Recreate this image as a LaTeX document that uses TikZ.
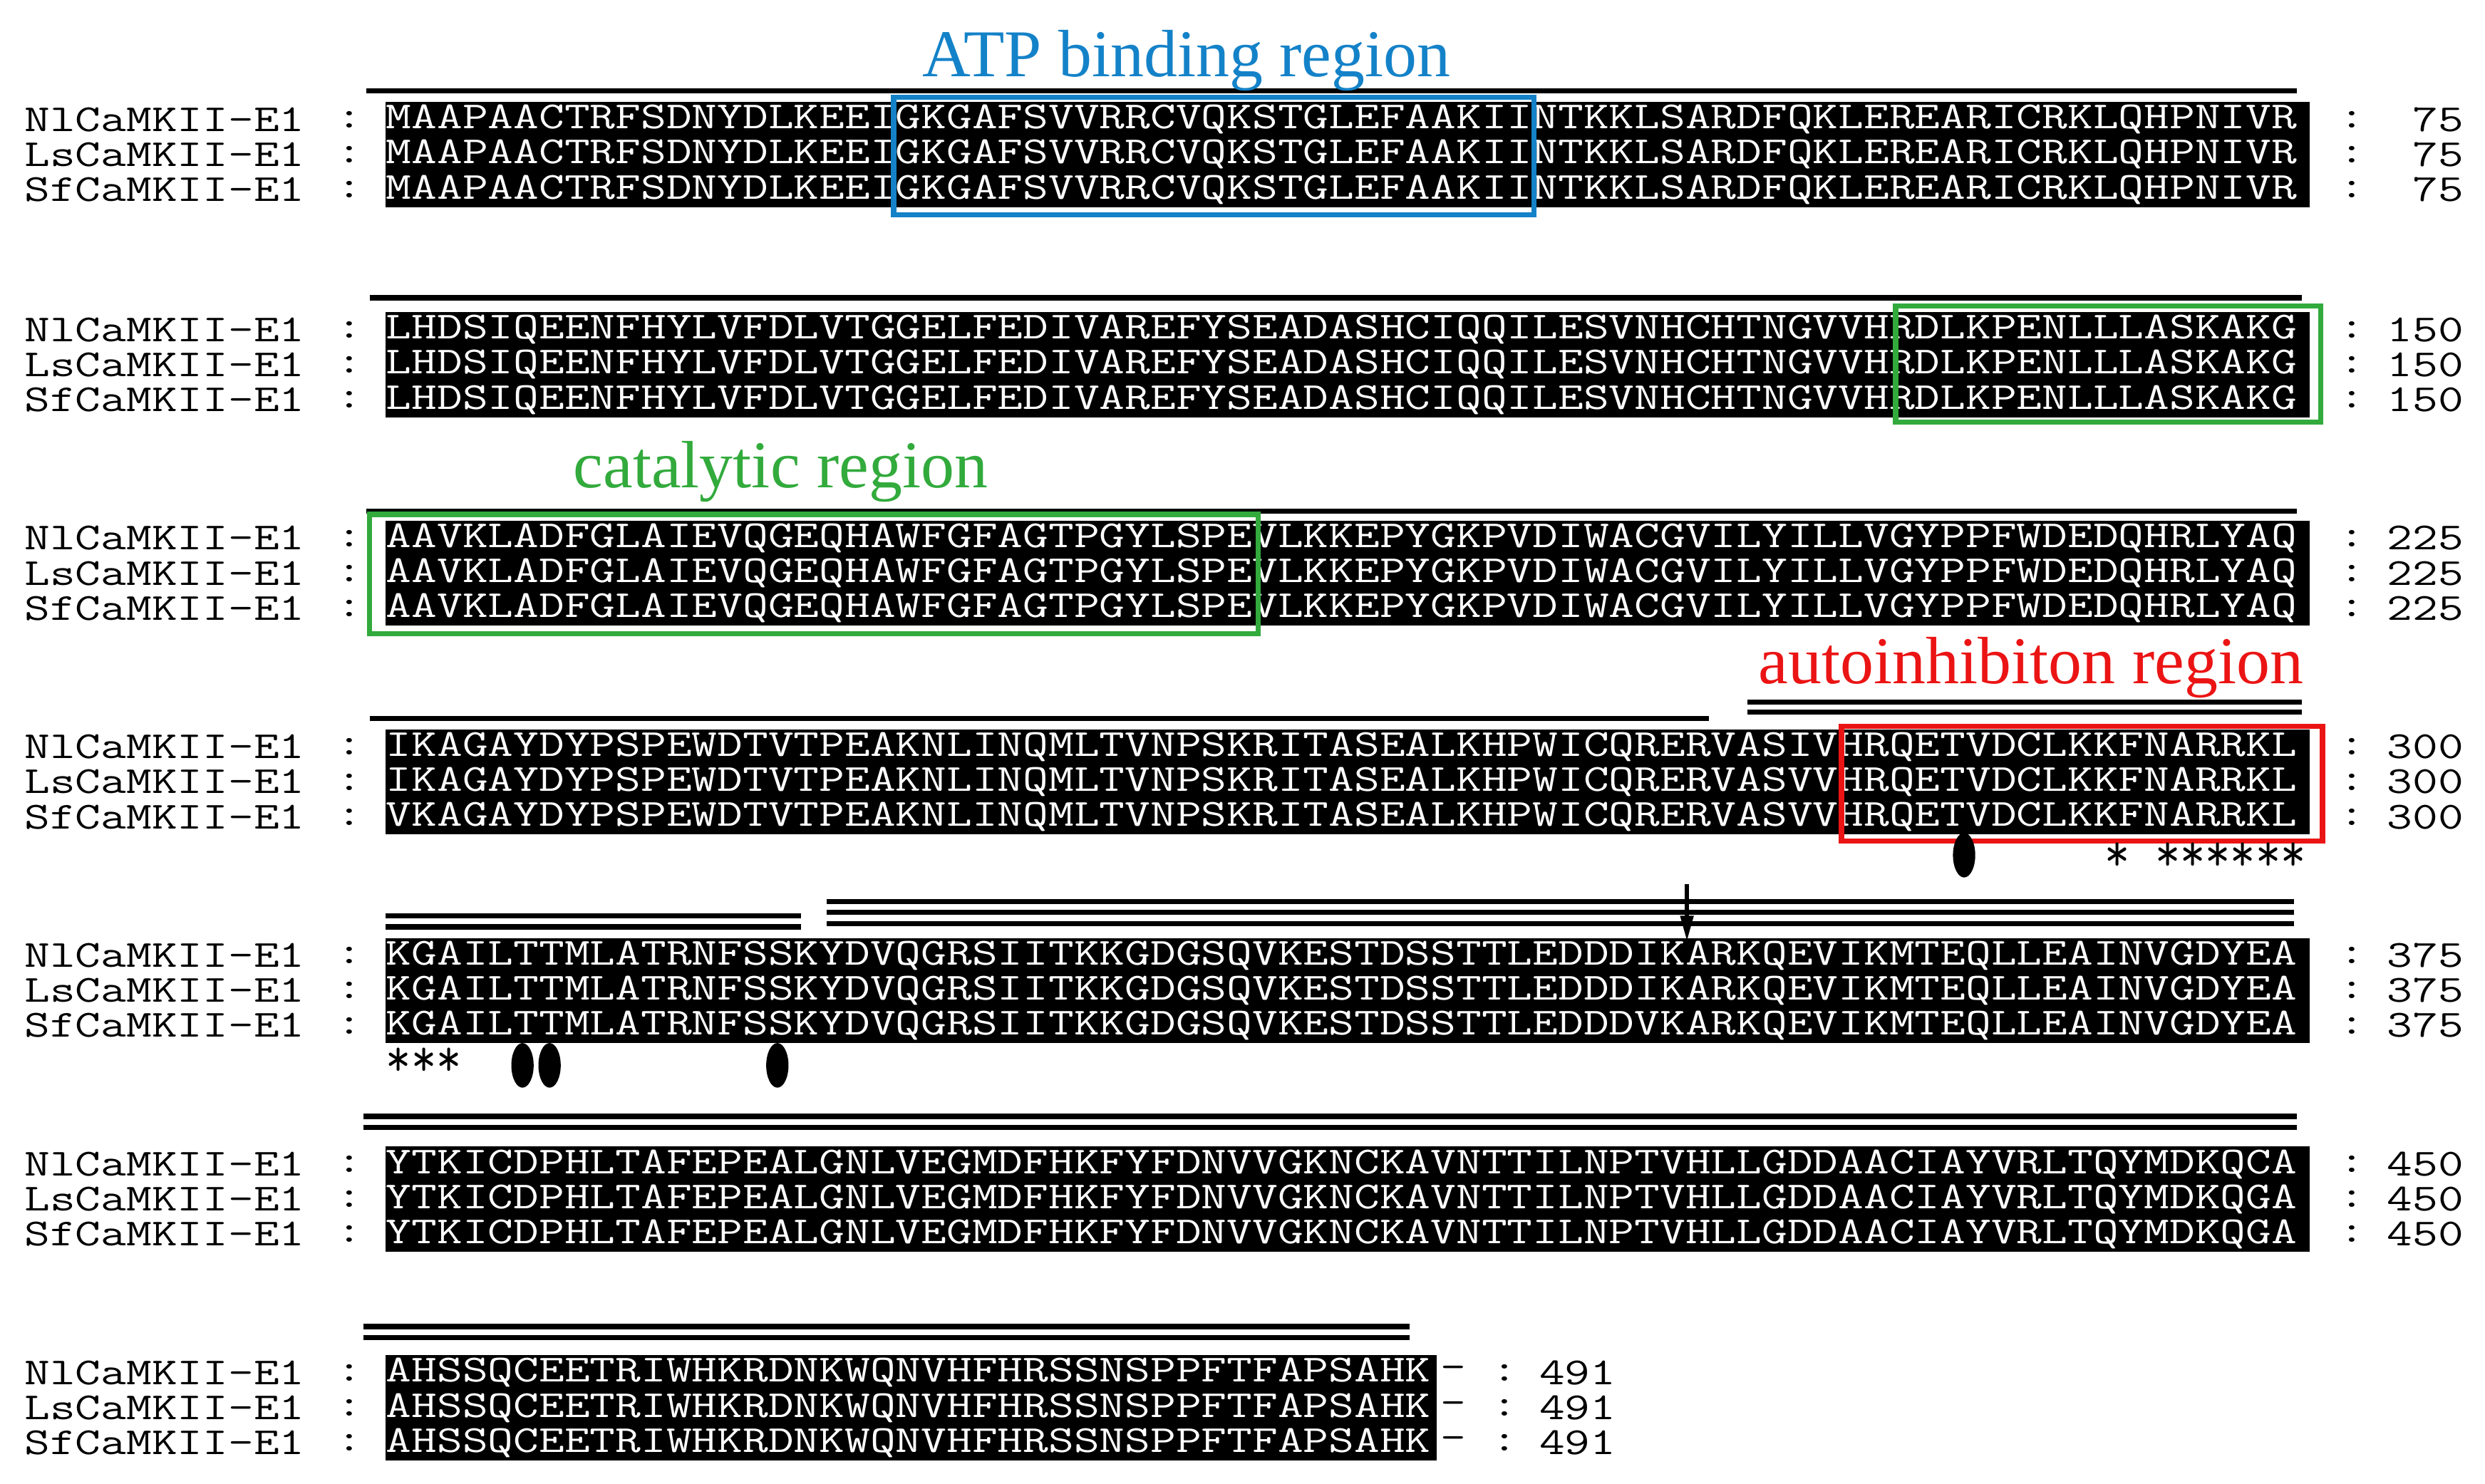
\documentclass[tikz,border=0pt]{standalone}
\usepackage{fontspec}
\setmainfont{Liberation Serif}
\usetikzlibrary{arrows.meta}
\definecolor{atpblue}{RGB}{20,130,200}
\definecolor{catgreen}{RGB}{50,170,60}
\definecolor{autored}{RGB}{235,20,20}
\newcommand{\sq}[1]{\scalebox{1.294}[1]{#1}}
\tikzset{
 seq/.style={anchor=west,inner sep=0pt,font=\ttfamily\fontsize{12}{12}\selectfont,text=white},
 lab/.style={anchor=west,inner sep=0pt,font=\ttfamily\fontsize{12}{12}\selectfont,text=black},
 num/.style={anchor=east,inner sep=0pt,font=\ttfamily\fontsize{12}{12}\selectfont,text=black},
 star/.style={anchor=west,inner sep=0pt,font=\ttfamily\fontsize{17}{17}\selectfont,text=black},
 blk/.style={fill=black,draw=none},
 bar/.style={line width=1.6pt},
 head/.style={font=\fontsize{21}{21}\selectfont,inner sep=0pt},
 dot/.style={fill=black,draw=none}
}
\newcommand{\arow}[5]{% name, y, label, seq, num
 \node[lab] (l#1) at (15,#2) {\sq{#3}};
 \node[lab] (c#1) at (211,#2) {\sq{:}};
 \node[seq] (s#1) at (242,#2) {\sq{#4}};
 \node[lab] (d#1) at (1468,#2) {\sq{:}};
 \node[num] (n#1) at (1547,#2) {\sq{#5}};
}
\begin{document}
\begin{tikzpicture}[x=0.5pt,y=-0.5pt]
\useasboundingbox (0,0) rectangle (1560,931.5);
% black blocks
\fill[blk] (242,64) rectangle (1450,130);
\fill[blk] (242,196) rectangle (1450,262);
\fill[blk] (242,327) rectangle (1450,393);
\fill[blk] (242,458) rectangle (1450,524);
\fill[blk] (242,589) rectangle (1450,655);
\fill[blk] (242,720) rectangle (1450,786);
\fill[blk] (242,851) rectangle (902,917);
% block 1
\arow{a1}{75}{NlCaMKII-E1}{MAAPAACTRFSDNYDLKEEIGKGAFSVVRRCVQKSTGLEFAAKIINTKKLSARDFQKLEREARICRKLQHPNIVR}{75}
\arow{a2}{97}{LsCaMKII-E1}{MAAPAACTRFSDNYDLKEEIGKGAFSVVRRCVQKSTGLEFAAKIINTKKLSARDFQKLEREARICRKLQHPNIVR}{75}
\arow{a3}{119}{SfCaMKII-E1}{MAAPAACTRFSDNYDLKEEIGKGAFSVVRRCVQKSTGLEFAAKIINTKKLSARDFQKLEREARICRKLQHPNIVR}{75}
% block 2
\arow{b1}{207}{NlCaMKII-E1}{LHDSIQEENFHYLVFDLVTGGELFEDIVAREFYSEADASHCIQQILESVNHCHTNGVVHRDLKPENLLLASKAKG}{150}
\arow{b2}{229}{LsCaMKII-E1}{LHDSIQEENFHYLVFDLVTGGELFEDIVAREFYSEADASHCIQQILESVNHCHTNGVVHRDLKPENLLLASKAKG}{150}
\arow{b3}{251}{SfCaMKII-E1}{LHDSIQEENFHYLVFDLVTGGELFEDIVAREFYSEADASHCIQQILESVNHCHTNGVVHRDLKPENLLLASKAKG}{150}
% block 3
\arow{c1}{338}{NlCaMKII-E1}{AAVKLADFGLAIEVQGEQHAWFGFAGTPGYLSPEVLKKEPYGKPVDIWACGVILYILLVGYPPFWDEDQHRLYAQ}{225}
\arow{c2}{360}{LsCaMKII-E1}{AAVKLADFGLAIEVQGEQHAWFGFAGTPGYLSPEVLKKEPYGKPVDIWACGVILYILLVGYPPFWDEDQHRLYAQ}{225}
\arow{c3}{382}{SfCaMKII-E1}{AAVKLADFGLAIEVQGEQHAWFGFAGTPGYLSPEVLKKEPYGKPVDIWACGVILYILLVGYPPFWDEDQHRLYAQ}{225}
% block 4
\arow{d1}{469}{NlCaMKII-E1}{IKAGAYDYPSPEWDTVTPEAKNLINQMLTVNPSKRITASEALKHPWICQRERVASIVHRQETVDCLKKFNARRKL}{300}
\arow{d2}{491}{LsCaMKII-E1}{IKAGAYDYPSPEWDTVTPEAKNLINQMLTVNPSKRITASEALKHPWICQRERVASVVHRQETVDCLKKFNARRKL}{300}
\arow{d3}{513}{SfCaMKII-E1}{VKAGAYDYPSPEWDTVTPEAKNLINQMLTVNPSKRITASEALKHPWICQRERVASVVHRQETVDCLKKFNARRKL}{300}
% block 5
\arow{e1}{600}{NlCaMKII-E1}{KGAILTTMLATRNFSSKYDVQGRSIITKKGDGSQVKESTDSSTTLEDDDIKARKQEVIKMTEQLLEAINVGDYEA}{375}
\arow{e2}{622}{LsCaMKII-E1}{KGAILTTMLATRNFSSKYDVQGRSIITKKGDGSQVKESTDSSTTLEDDDIKARKQEVIKMTEQLLEAINVGDYEA}{375}
\arow{e3}{644}{SfCaMKII-E1}{KGAILTTMLATRNFSSKYDVQGRSIITKKGDGSQVKESTDSSTTLEDDDVKARKQEVIKMTEQLLEAINVGDYEA}{375}
% block 6
\arow{f1}{731}{NlCaMKII-E1}{YTKICDPHLTAFEPEALGNLVEGMDFHKFYFDNVVGKNCKAVNTTILNPTVHLLGDDAACIAYVRLTQYMDKQCA}{450}
\arow{f2}{753}{LsCaMKII-E1}{YTKICDPHLTAFEPEALGNLVEGMDFHKFYFDNVVGKNCKAVNTTILNPTVHLLGDDAACIAYVRLTQYMDKQGA}{450}
\arow{f3}{775}{SfCaMKII-E1}{YTKICDPHLTAFEPEALGNLVEGMDFHKFYFDNVVGKNCKAVNTTILNPTVHLLGDDAACIAYVRLTQYMDKQGA}{450}
% block 7
\foreach \nm/\yy/\lb in {g1/862/NlCaMKII-E1,g2/884/LsCaMKII-E1,g3/906/SfCaMKII-E1}{
 \node[lab] (l\nm) at (15,\yy) {\sq{\lb}};
 \node[lab] (c\nm) at (211,\yy) {\sq{:}};
 \node[seq] (s\nm) at (242,\yy) {\sq{AHSSQCEETRIWHKRDNKWQNVHFHRSSNSPPFTFAPSAHK}};
 \node[lab] (h\nm) at (904,\yy) {\sq{-}};
 \node[lab] (d\nm) at (936,\yy) {\sq{:}};
 \node[lab] (n\nm) at (966,\yy) {\sq{491}};
}
% bars
\draw[bar] (230,57) -- (1442,57);
\draw[bar] (232,187) -- (1445,187);
\draw[bar] (230,321) -- (1442,321);
\draw[bar] (232,451) -- (1073,451);
\draw[bar] (1097,441) -- (1445,441);
\draw[bar] (1097,447) -- (1445,447);
\draw[bar] (242,575) -- (503,575);
\draw[bar] (242,582) -- (503,582);
\draw[bar] (519,566) -- (1440,566);
\draw[bar] (519,573) -- (1440,573);
\draw[bar] (519,580) -- (1440,580);
\draw[bar] (228,701) -- (1442,701);
\draw[bar] (228,708) -- (1442,708);
\draw[bar] (228,833) -- (885,833);
\draw[bar] (228,840) -- (885,840);
% arrow
\coordinate (ar0) at (1059,555);
\coordinate (ar1) at (1059,591);
\draw[line width=1.2pt,-{Triangle[width=4pt,length=8pt]}] (ar0) -- (ar1);
% region boxes and headings
\draw[atpblue,line width=1.6pt] (561,61) rectangle (963,135);
\node[head,text=atpblue] (atp) at (745,38) {ATP binding region};
\draw[catgreen,line width=1.6pt] (1190,192) rectangle (1457,265);
\draw[catgreen,line width=1.6pt] (232,323) rectangle (790,398);
\node[head,text=catgreen] (cat) at (490,296) {catalytic region};
\draw[autored,line width=1.6pt] (1156,456) rectangle (1458,528);
\node[head,text=autored] (aut) at (1275,419) {autoinhibiton region};
% stars and dots
\node[star] (st1) at (1321,538) {\scalebox{0.9}[1]{*~******}};
\node[star] (st2) at (242,667) {\scalebox{0.9}[1]{***}};
\fill[dot] (1233,537) ellipse (7 and 14);
\fill[dot] (328,669) ellipse (7 and 14);
\fill[dot] (345,669) ellipse (7 and 14);
\fill[dot] (488,669) ellipse (7 and 14);
\end{tikzpicture}
\end{document}
